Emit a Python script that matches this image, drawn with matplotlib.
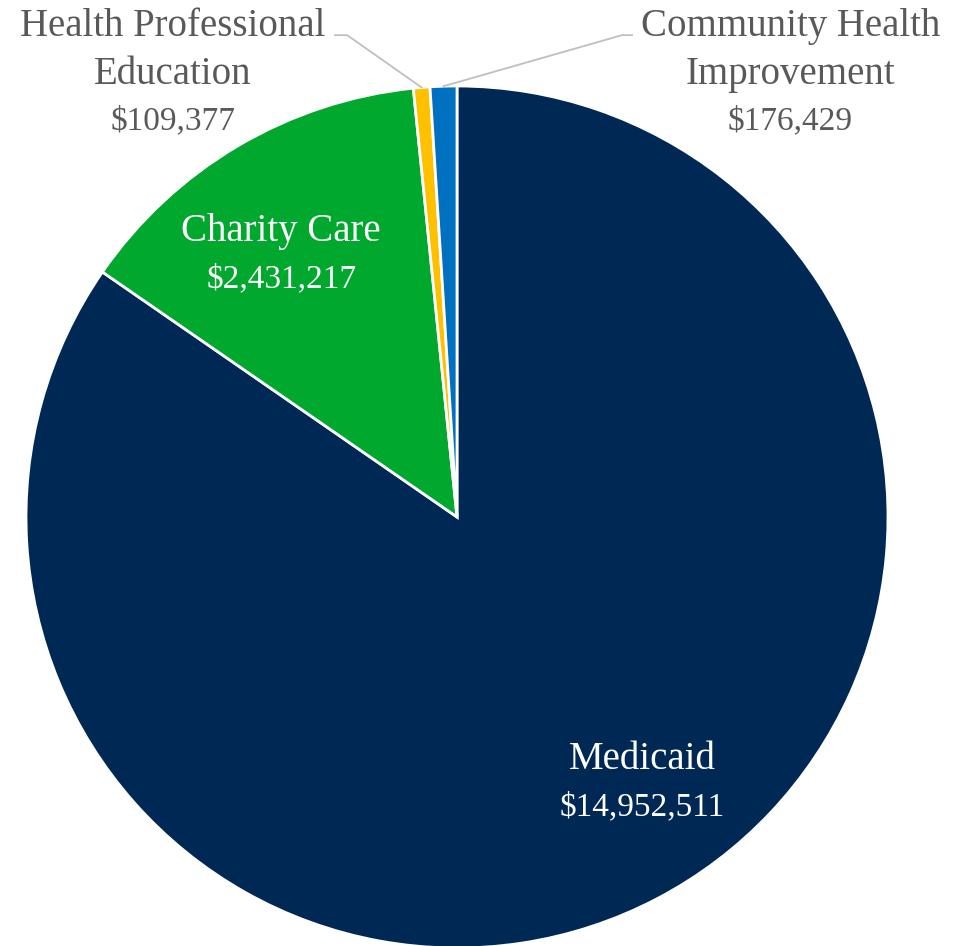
import numpy as np
import matplotlib.pyplot as plt

categories = ['Medicaid', 'Charity Care', 'Health Professional\nEducation', 'Community Health\nImprovement']
values = [14952511, 2431217, 109377, 176429]
colors = ['#002855', '#00A82D', '#FFC000', '#0070C0']

plt.rcParams['font.family'] = ['Liberation Serif', 'DejaVu Serif']

fig = plt.figure(figsize=(9.55, 9.46), dpi=100)
ax = fig.add_axes([26 / 955, -2 / 946, 862 / 955, 862 / 946])
ax.pie(values, colors=colors, startangle=90, counterclock=False, radius=1,
       wedgeprops=dict(edgecolor='white', linewidth=2))
ax.set_xlim(-1, 1)
ax.set_ylim(-1, 1)
ax.set_aspect('equal')
ax.axis('off')

# mid angles of the wedges (degrees, matplotlib convention)
fracs = np.array(values) / sum(values)
ends = 90 - 360 * np.cumsum(fracs)
starts = ends + 360 * fracs
mids = (starts + ends) / 2

grey = '#595959'
fmt = lambda v: f"${v:,}"
name_fs = 28
val_fs = 24

# inside labels
ax.text(0.43, -0.562, categories[0], color='white', fontsize=name_fs, ha='center', va='center')
ax.text(0.43, -0.672, fmt(values[0]), color='white', fontsize=val_fs, ha='center', va='center')
ax.text(-0.408, 0.663, categories[1], color='white', fontsize=name_fs, ha='center', va='center')
ax.text(-0.408, 0.553, fmt(values[1]), color='white', fontsize=val_fs, ha='center', va='center')

# outside labels, one line at a time
for i, x in [(2, -0.659), (3, 0.773)]:
    lines = categories[i].split('\n')
    for j, line in enumerate(lines):
        ax.text(x, 1.138 - 0.111 * j, line, color=grey, fontsize=name_fs,
                ha='center', va='center', clip_on=False)
    ax.text(x, 0.918, fmt(values[i]), color=grey, fontsize=val_fs,
            ha='center', va='center', clip_on=False)

# leader lines
line_kw = dict(color='#BFBFBF', linewidth=1.3, clip_on=False)
a = np.deg2rad(mids[2])
ax.plot([-0.283, -0.255, np.cos(a)], [1.118, 1.118, np.sin(a)], **line_kw)
a = np.deg2rad(mids[3])
ax.plot([np.cos(a), 0.383, 0.406], [np.sin(a), 1.118, 1.118], **line_kw)

fig.savefig('out.png', dpi=100)
